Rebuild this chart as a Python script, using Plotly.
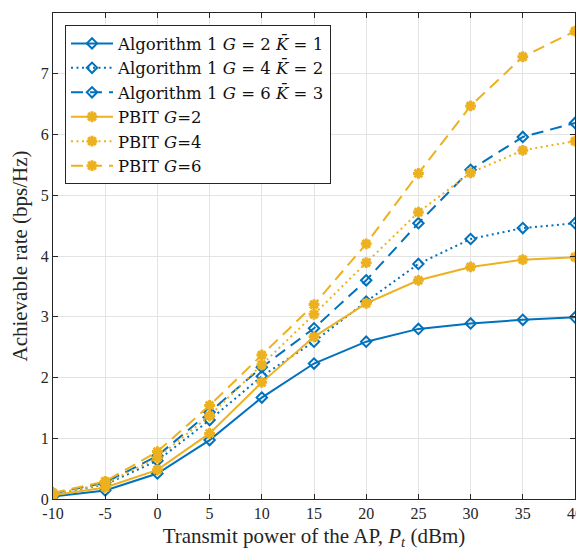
import plotly.graph_objects as go

x_vals = [-10, -5, 0, 5, 10, 15, 20, 25, 30, 35, 40]
alg_g2 = [0.04, 0.14, 0.42, 0.97, 1.67, 2.23, 2.59, 2.80, 2.89, 2.95, 2.99]
alg_g4 = [0.08, 0.24, 0.63, 1.30, 2.02, 2.59, 3.25, 3.87, 4.28, 4.46, 4.54]
alg_g6 = [0.09, 0.27, 0.71, 1.43, 2.17, 2.81, 3.60, 4.54, 5.42, 5.96, 6.19]
pbit_g2 = [0.06, 0.19, 0.48, 1.08, 1.92, 2.67, 3.22, 3.60, 3.82, 3.94, 3.98]
pbit_g4 = [0.08, 0.25, 0.68, 1.37, 2.21, 3.04, 3.89, 4.72, 5.37, 5.74, 5.89]
pbit_g6 = [0.10, 0.29, 0.78, 1.54, 2.37, 3.20, 4.20, 5.36, 6.47, 7.28, 7.70]

x_ticks = [-10, -5, 0, 5, 10, 15, 20, 25, 30, 35, 40]
y_ticks = [0, 1, 2, 3, 4, 5, 6, 7, 8]

names = [
    "Algorithm 1 <i>G</i> = 2 <i>K\u0304</i> = 1",
    "Algorithm 1 <i>G</i> = 4 <i>K\u0304</i> = 2",
    "Algorithm 1 <i>G</i> = 6 <i>K\u0304</i> = 3",
    "PBIT <i>G</i>=2",
    "PBIT <i>G</i>=4",
    "PBIT <i>G</i>=6",
]

BLUE = "#0072BD"
YEL = "#EDB120"
dashes = ["solid", "2px,3.5px", "12px,7px"]

FF = "Liberation Serif"
FL = "DejaVu Serif"

fig = go.Figure()
for i, ys in enumerate([alg_g2, alg_g4, alg_g6]):
    fig.add_trace(go.Scatter(
        x=x_vals, y=ys, name=names[i], mode="lines+markers",
        line=dict(color=BLUE, width=2, dash=dashes[i]),
        marker=dict(symbol="diamond-open", size=8, color=BLUE,
                    line=dict(width=2, color=BLUE)),
    ))
for i, ys in enumerate([pbit_g2, pbit_g4, pbit_g6]):
    fig.add_trace(go.Scatter(
        x=x_vals, y=ys, name=names[3 + i], mode="lines+markers",
        line=dict(color=YEL, width=2, dash=dashes[i]),
        marker=dict(symbol="asterisk-open", size=9, color=YEL,
                    line=dict(width=3, color=YEL)),
    ))

axis_common = dict(
    showgrid=True, gridcolor="#e3e3e3", gridwidth=1,
    showline=True, linecolor="#262626", linewidth=1, mirror="ticks",
    ticks="inside", ticklen=5, tickcolor="#262626",
    zeroline=False, tickfont=dict(family=FF, size=16, color="#262626"),
    automargin=False,
)

# page body has an 8px margin: figure spans 8..584 x 8..550
fig.update_layout(
    width=576, height=542,
    margin=dict(l=45, r=9, t=5, b=51),
    paper_bgcolor="white", plot_bgcolor="white",
    font=dict(family=FF, color="#262626"),
    xaxis=dict(range=[-10, 40], tickvals=x_ticks,
               ticktext=[str(v) for v in x_ticks],
               title=dict(text="Transmit power of the AP, <i>P</i><sub><i>t</i></sub> (dBm)",
                          font=dict(family=FF, size=21, color="#262626")),
               **axis_common),
    yaxis=dict(range=[0, 8], tickvals=y_ticks,
               title=dict(text="Achievable rate (bps/Hz)",
                          font=dict(family=FF, size=21, color="#262626")),
               **axis_common),
    legend=dict(x=0.023, y=0.975, xanchor="left", yanchor="top",
                bgcolor="white", bordercolor="#262626", borderwidth=1,
                font=dict(family=FL, size=16.5, color="#111111"), itemwidth=42,
                tracegroupgap=0),
    showlegend=True,
)

fig.write_html("out.html")
